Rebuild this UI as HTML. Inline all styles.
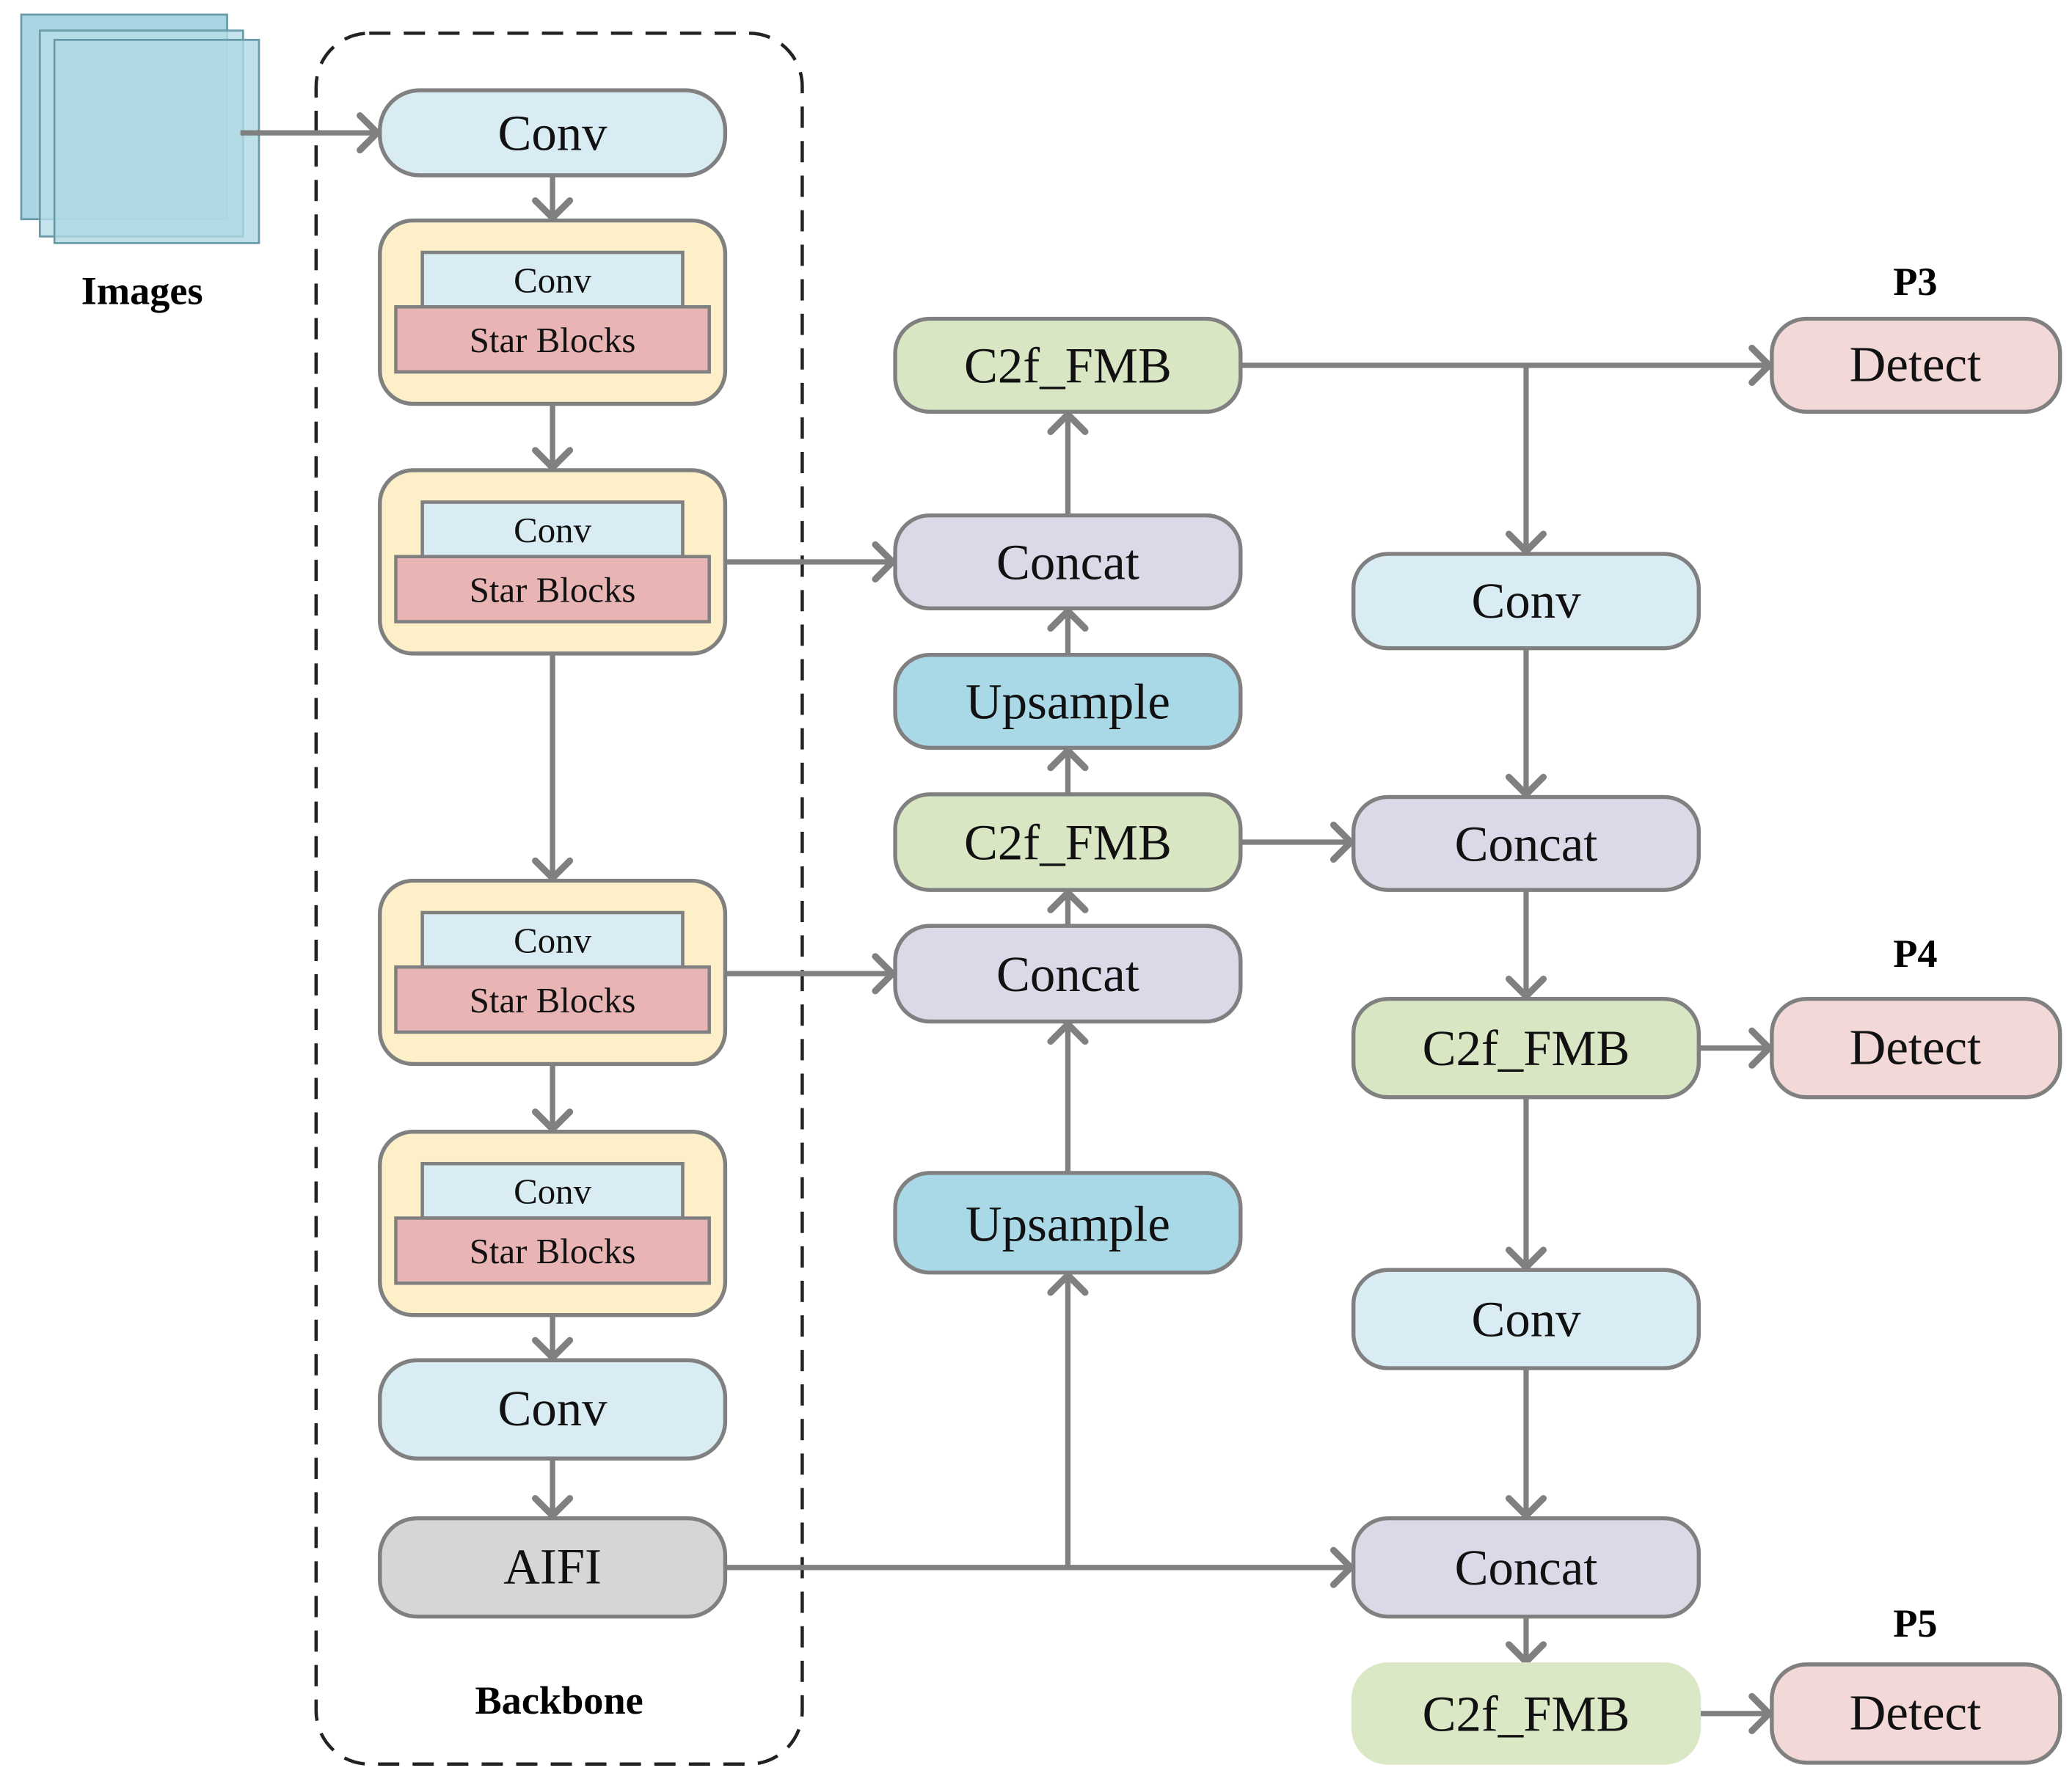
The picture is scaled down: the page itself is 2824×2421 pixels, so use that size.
<!DOCTYPE html>
<html><head><meta charset="utf-8"><style>html,body{margin:0;padding:0;background:#fff}svg{display:block}</style></head>
<body>
<svg width="2824" height="2421" viewBox="0 0 1560 1337" preserveAspectRatio="none" xmlns="http://www.w3.org/2000/svg" font-family="Liberation Serif, serif">
<defs>
<marker id="a" markerUnits="userSpaceOnUse" markerWidth="40" markerHeight="40" refX="20" refY="20" orient="auto">
<path d="M7,7 L20,20 L7,33" fill="none" stroke="#808080" stroke-width="5" stroke-linecap="round" stroke-linejoin="round"/>
</marker>
</defs>
<rect x="238" y="25" width="366" height="1303" rx="40" fill="none" stroke="#222" stroke-width="2.5" stroke-dasharray="16,10"/>
<g stroke="#6a9aa8" stroke-width="1.5">
<rect x="16" y="11" width="155" height="154" fill="#a9d6e2"/>
<rect x="30" y="23" width="153" height="155" fill="#b6dde8" fill-opacity="0.8"/>
<rect x="41" y="30" width="154" height="153" fill="#aed8e4" fill-opacity="0.8"/>
</g>
<text x="107" y="229" font-size="30" font-weight="bold" text-anchor="middle">Images</text>
<text x="421" y="1290" font-size="30" font-weight="bold" text-anchor="middle">Backbone</text>
<g font-size="30" font-weight="bold" text-anchor="middle">
<text x="1442" y="222">P3</text><text x="1442" y="728">P4</text><text x="1442" y="1232">P5</text>
</g>
<g stroke="#808080" stroke-width="4" fill="none">
<line x1="181" y1="100" x2="284" y2="100" marker-end="url(#a)"/>
<line x1="416" y1="132" x2="416" y2="164" marker-end="url(#a)"/>
<line x1="416" y1="304" x2="416" y2="352" marker-end="url(#a)"/>
<line x1="416" y1="492" x2="416" y2="661" marker-end="url(#a)"/>
<line x1="416" y1="801" x2="416" y2="850" marker-end="url(#a)"/>
<line x1="416" y1="990" x2="416" y2="1022" marker-end="url(#a)"/>
<line x1="416" y1="1098" x2="416" y2="1141" marker-end="url(#a)"/>
<line x1="546" y1="423" x2="672" y2="423" marker-end="url(#a)"/>
<line x1="546" y1="733" x2="672" y2="733" marker-end="url(#a)"/>
<line x1="546" y1="1180" x2="1017" y2="1180" marker-end="url(#a)"/>
<line x1="804" y1="1180" x2="804" y2="960" marker-end="url(#a)"/>
<line x1="804" y1="883" x2="804" y2="771" marker-end="url(#a)"/>
<line x1="804" y1="697" x2="804" y2="672" marker-end="url(#a)"/>
<line x1="804" y1="598" x2="804" y2="565" marker-end="url(#a)"/>
<line x1="804" y1="493" x2="804" y2="460" marker-end="url(#a)"/>
<line x1="804" y1="388" x2="804" y2="312" marker-end="url(#a)"/>
<line x1="934" y1="275" x2="1332" y2="275" marker-end="url(#a)"/>
<line x1="1149" y1="275" x2="1149" y2="415" marker-end="url(#a)"/>
<line x1="1149" y1="488" x2="1149" y2="598" marker-end="url(#a)"/>
<line x1="934" y1="634" x2="1017" y2="634" marker-end="url(#a)"/>
<line x1="1149" y1="670" x2="1149" y2="750" marker-end="url(#a)"/>
<line x1="1149" y1="826" x2="1149" y2="954" marker-end="url(#a)"/>
<line x1="1149" y1="1030" x2="1149" y2="1141" marker-end="url(#a)"/>
<line x1="1149" y1="1217" x2="1149" y2="1251" marker-end="url(#a)"/>
<line x1="1279" y1="789" x2="1332" y2="789" marker-end="url(#a)"/>
<line x1="1279" y1="1290" x2="1332" y2="1290" marker-end="url(#a)"/>
</g>
<g stroke="#808080" stroke-width="3">
<rect x="286" y="68" width="260" height="64" rx="30" fill="#d9ecf3"/>
<rect x="286" y="1024" width="260" height="74" rx="28" fill="#d9ecf3"/>
<rect x="286" y="1143" width="260" height="74" rx="28" fill="#d6d6d6"/>
<g fill="#fdefc8">
<rect x="286" y="166" width="260" height="138" rx="25"/>
<rect x="286" y="354" width="260" height="138" rx="25"/>
<rect x="286" y="663" width="260" height="138" rx="25"/>
<rect x="286" y="852" width="260" height="138" rx="25"/>
</g>
<g fill="#d9ecf3" stroke-width="2.5">
<rect x="318" y="190" width="196" height="41"/>
<rect x="318" y="378" width="196" height="41"/>
<rect x="318" y="687" width="196" height="41"/>
<rect x="318" y="876" width="196" height="41"/>
</g>
<g fill="#e8b4b4" stroke-width="2.5">
<rect x="298" y="231" width="236" height="49"/>
<rect x="298" y="419" width="236" height="49"/>
<rect x="298" y="728" width="236" height="49"/>
<rect x="298" y="917" width="236" height="49"/>
</g>
<rect x="674" y="240" width="260" height="70" rx="26" fill="#d9e6c4"/>
<rect x="674" y="388" width="260" height="70" rx="26" fill="#dcd8e7"/>
<rect x="674" y="493" width="260" height="70" rx="26" fill="#a9d8e6"/>
<rect x="674" y="598" width="260" height="72" rx="26" fill="#d9e6c4"/>
<rect x="674" y="697" width="260" height="72" rx="26" fill="#dcd8e7"/>
<rect x="674" y="883" width="260" height="75" rx="26" fill="#a9d8e6"/>
<rect x="1019" y="417" width="260" height="71" rx="26" fill="#d9ecf3"/>
<rect x="1019" y="600" width="260" height="70" rx="26" fill="#dcd8e7"/>
<rect x="1019" y="752" width="260" height="74" rx="26" fill="#d9e6c4"/>
<rect x="1019" y="956" width="260" height="74" rx="26" fill="#d9ecf3"/>
<rect x="1019" y="1143" width="260" height="74" rx="26" fill="#dcd8e7"/>
<rect x="1019" y="1253" width="260" height="74" rx="26" fill="#dbe8c6" stroke="#dbe8c6"/>
<rect x="1334" y="240" width="217" height="70" rx="26" fill="#f2d8d6"/>
<rect x="1334" y="752" width="217" height="74" rx="26" fill="#f2d8d6"/>
<rect x="1334" y="1253" width="217" height="74" rx="26" fill="#f2d8d6"/>
</g>
<g font-size="38" text-anchor="middle" fill="#111">
<text x="416" y="113">Conv</text>
<text x="416" y="1073">Conv</text>
<text x="416" y="1192">AIFI</text>
<text x="804" y="288">C2f_FMB</text>
<text x="804" y="436">Concat</text>
<text x="804" y="541">Upsample</text>
<text x="804" y="647">C2f_FMB</text>
<text x="804" y="746">Concat</text>
<text x="804" y="934">Upsample</text>
<text x="1149" y="465">Conv</text>
<text x="1149" y="648">Concat</text>
<text x="1149" y="802">C2f_FMB</text>
<text x="1149" y="1006">Conv</text>
<text x="1149" y="1193">Concat</text>
<text x="1149" y="1303">C2f_FMB</text>
<text x="1442" y="287">Detect</text>
<text x="1442" y="801">Detect</text>
<text x="1442" y="1302">Detect</text>
</g>
<g font-size="27" text-anchor="middle" fill="#111">
<text x="416" y="220">Conv</text><text x="416" y="265">Star Blocks</text>
<text x="416" y="408">Conv</text><text x="416" y="453">Star Blocks</text>
<text x="416" y="717">Conv</text><text x="416" y="762">Star Blocks</text>
<text x="416" y="906">Conv</text><text x="416" y="951">Star Blocks</text>
</g>
</svg>
</body></html>
